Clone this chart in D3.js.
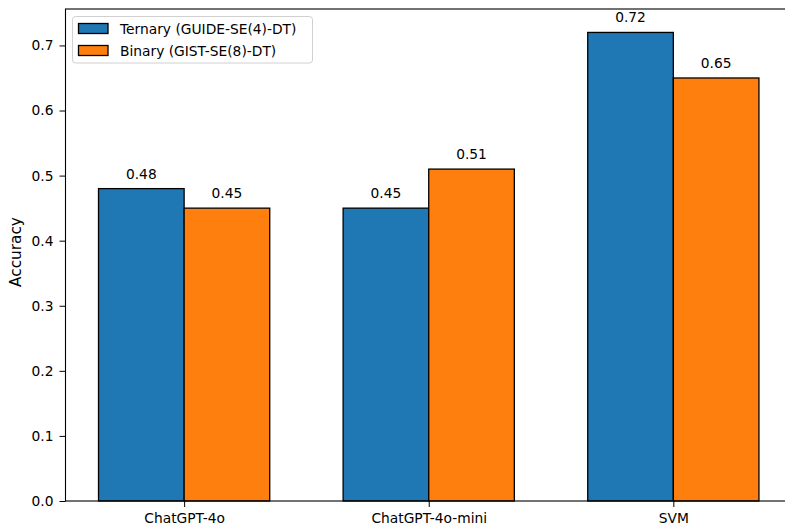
<!DOCTYPE html>
<html><head><meta charset="utf-8">
<script src="https://cdn.jsdelivr.net/npm/d3@7"></script>
<style>body{margin:0;background:#fff}svg{display:block;font-family:"DejaVu Sans",sans-serif}</style>
</head><body><svg id="c" width="785" height="525"></svg>
<script>
const categories = ["ChatGPT-4o", "ChatGPT-4o-mini", "SVM"];
const seriesNames = ["Ternary (GUIDE-SE(4)-DT)", "Binary (GIST-SE(8)-DT)"];
const ternary = [0.48, 0.45, 0.72];
const binary = [0.45, 0.51, 0.65];
const yTicks = [0.0, 0.1, 0.2, 0.3, 0.4, 0.5, 0.6, 0.7];
const colors = ["#1f77b4", "#ff7f0e"];

const svg = d3.select("#c");
const L = 65.5, T = 9, B = 501, unit = 244.6;
const barW = 0.35;
const x = d3.scaleLinear().domain([-0.485, 2.485]).range([L, L + 2.97 * unit]);
const y = d3.scaleLinear().domain([0, 0.756]).range([B, T]);
const fs = 13.8;

const series = [ternary, binary];
series.forEach((vals, s) => {
  const off = s === 0 ? -barW : 0;
  svg.append("g").selectAll("rect").data(vals).join("rect")
    .attr("x", (d, i) => x(i + off))
    .attr("width", x(barW) - x(0))
    .attr("y", d => y(d))
    .attr("height", d => y(0) - y(d))
    .attr("fill", colors[s])
    .attr("stroke", "#000").attr("stroke-width", 1.3);
  svg.append("g").selectAll("text").data(vals).join("text")
    .attr("x", (d, i) => x(i + off + barW / 2))
    .attr("y", d => y(d) - 10)
    .attr("text-anchor", "middle").attr("font-size", fs).attr("fill", "#000")
    .text(d => d.toFixed(2));
});

// axes
const yAxis = d3.axisLeft(y).tickValues(yTicks).tickFormat(d3.format(".1f")).tickSize(6).tickPadding(6);
const gy = svg.append("g").attr("transform", `translate(${L},0)`).call(yAxis);
gy.select(".domain").remove();
gy.selectAll("text").attr("font-size", fs).attr("font-family", "DejaVu Sans").attr("fill", "#000");
gy.selectAll("line").attr("stroke", "#000").attr("stroke-width", 1);

const xAxis = d3.axisBottom(x).tickValues(categories.map((c, i) => i)).tickFormat(i => categories[i]).tickSize(6).tickPadding(6.5);
const gx = svg.append("g").attr("transform", `translate(0,${B})`).call(xAxis);
gx.select(".domain").remove();
gx.selectAll("text").attr("font-size", fs).attr("font-family", "DejaVu Sans").attr("fill", "#000");
gx.selectAll("line").attr("stroke", "#000").attr("stroke-width", 1);

// spines
const R = x.range()[1];
svg.append("rect").attr("x", L).attr("y", T).attr("width", R - L).attr("height", B - T)
  .attr("fill", "none").attr("stroke", "#000").attr("stroke-width", 1.1);

// y label
svg.append("text").attr("transform", `translate(21,252) rotate(-90)`)
  .attr("text-anchor", "middle").attr("font-size", 15.3).attr("fill", "#000").text("Accuracy");

// legend
const lg = svg.append("g");
lg.append("rect").attr("x", 72.5).attr("y", 16.5).attr("width", 240).attr("height", 46.5)
  .attr("rx", 3).attr("fill", "#fff").attr("fill-opacity", 0.8).attr("stroke", "#d0d0d0").attr("stroke-width", 1);
seriesNames.forEach((n, i) => {
  const yy = 23.5 + i * 22;
  lg.append("rect").attr("x", 78.5).attr("y", yy).attr("width", 29.5).attr("height", 10)
    .attr("fill", colors[i]).attr("stroke", "#000").attr("stroke-width", 1.3);
  lg.append("text").attr("x", 120).attr("y", yy + 10.5).attr("font-size", fs).attr("fill", "#000").text(n);
});
</script></body></html>
